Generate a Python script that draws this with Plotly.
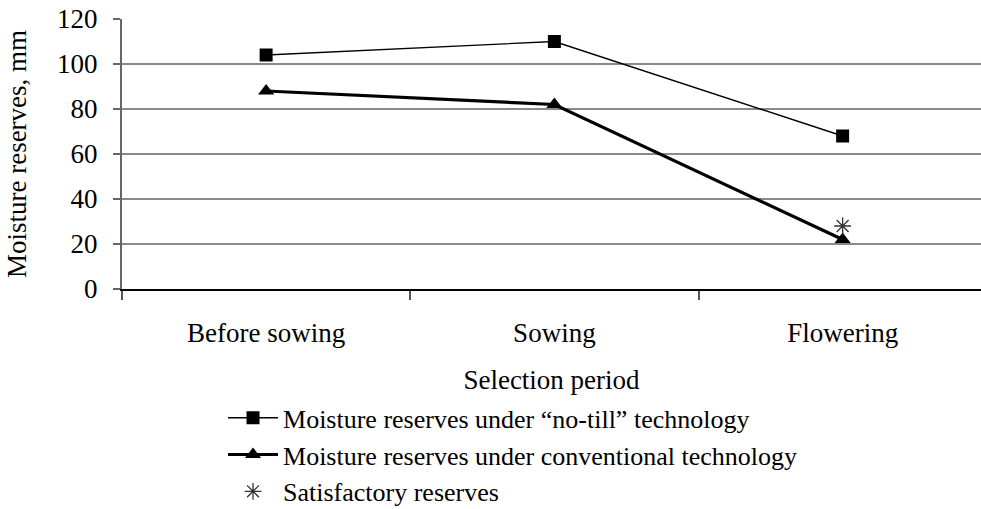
import plotly.graph_objects as go

categories = ["Before sowing", "Sowing", "Flowering"]
no_till = [104, 110, 68]
conventional = [88, 82, 22]
satisfactory_cat = ["Flowering"]
satisfactory = [28]
y_ticks = [0, 20, 40, 60, 80, 100, 120]

xpos = list(range(len(categories)))
sat_pos = [categories.index(c) for c in satisfactory_cat]

FONT = "'Liberation Serif', Tinos, 'Times New Roman', 'DejaVu Serif', serif"

fig = go.Figure()
fig.add_trace(go.Scatter(
    x=xpos, y=no_till, mode="lines+markers",
    name="Moisture reserves under \u201cno-till\u201d technology",
    line=dict(color="black", width=1.4),
    marker=dict(symbol="square", size=13, color="black"),
))
fig.add_trace(go.Scatter(
    x=xpos, y=conventional, mode="lines+markers",
    name="Moisture reserves under conventional technology",
    line=dict(color="black", width=3.2),
    marker=dict(symbol="triangle-up", size=14, color="black"),
))
fig.add_trace(go.Scatter(
    x=sat_pos, y=satisfactory, mode="markers",
    name="Satisfactory reserves",
    marker=dict(symbol="asterisk-open", size=14, color="#333",
                line=dict(color="#333", width=1.3)),
))

fig.update_layout(
    width=981, height=509,
    margin=dict(l=122, r=0, t=19, b=220, autoexpand=False),
    paper_bgcolor="white", plot_bgcolor="white",
    font=dict(family=FONT, size=27, color="black"),
    showlegend=True,
    legend=dict(
        x=0.1176, y=-0.39, xanchor="left", yanchor="top",
        font=dict(family=FONT, size=26, color="black"),
        bgcolor="rgba(0,0,0,0)", tracegroupgap=0, itemwidth=50,
    ),
    xaxis=dict(
        range=[-0.5, 2.48], automargin=False,
        tickvals=xpos, ticktext=categories,
        ticks="", showgrid=False, zeroline=False,
        showline=True, linecolor="black", linewidth=2,
        tickfont=dict(family=FONT, size=27),
        ticklabelstandoff=19,
        minor=dict(tick0=0.5, dtick=1, ticks="outside", ticklen=9,
                   tickcolor="#555", tickwidth=1.5, showgrid=False),
        title=dict(text="Selection period", font=dict(family=FONT, size=27), standoff=23),
    ),
    yaxis=dict(
        range=[0, 120], tickvals=y_ticks, automargin=False,
        showgrid=True, gridcolor="#8a8a8a", gridwidth=2,
        zeroline=False,
        showline=True, linecolor="#666", linewidth=2,
        ticks="outside", ticklen=7, tickcolor="#666", tickwidth=2,
        ticklabelstandoff=10,
        tickfont=dict(family=FONT, size=27),
        title=dict(text="Moisture reserves, mm", font=dict(family=FONT, size=27), standoff=23),
    ),
)

fig.write_html(
    "out.html",
    config={"displayModeBar": False},
    post_script="document.body.style.margin='0';document.body.style.overflow='hidden';",
)
